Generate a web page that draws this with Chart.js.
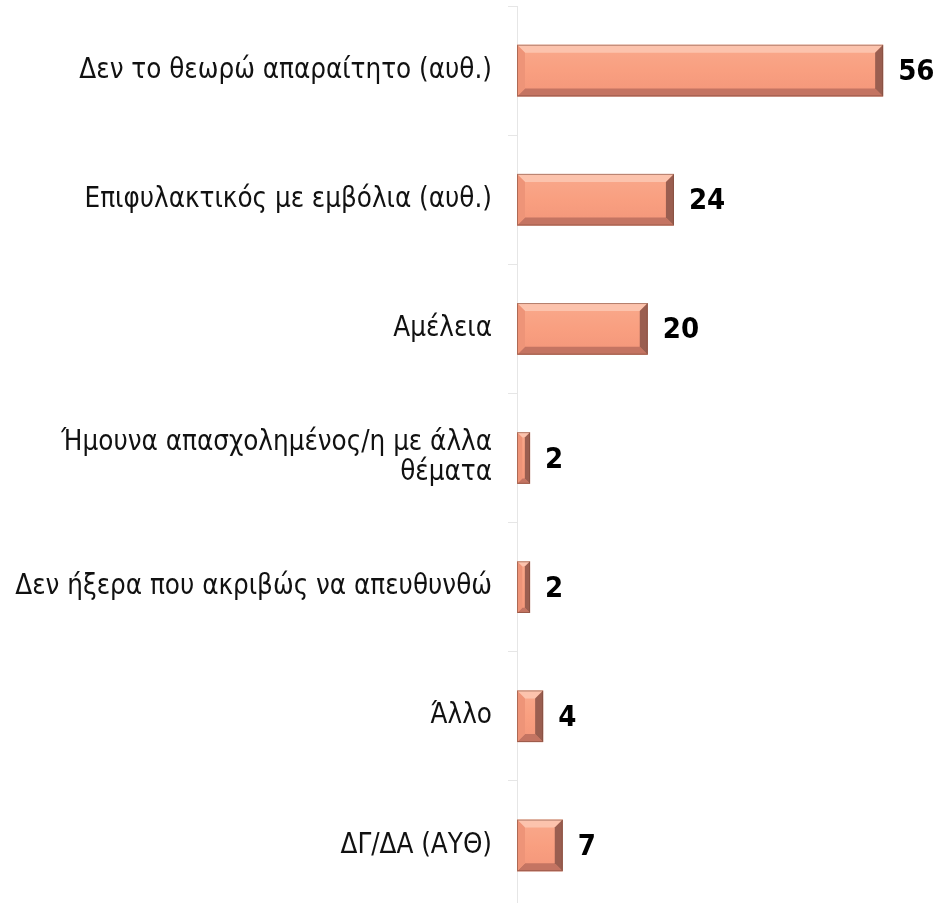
<!DOCTYPE html>
<html>
<head>
<meta charset="utf-8">
<script src="https://cdn.jsdelivr.net/npm/chart.js@4/dist/chart.umd.min.js"></script>
<style>
  html, body { margin: 0; padding: 0; background: #fff; overflow: hidden; }
  canvas { display: block; }
</style>
</head>
<body>
<canvas id="myChart" width="942" height="916" style="width:942px;height:916px"></canvas>
<script>
// κατηγορίες και τιμές
var categories = [
    'Δεν το θεωρώ απαραίτητο (αυθ.)',
    'Επιφυλακτικός με εμβόλια (αυθ.)',
    'Αμέλεια',
    ['Ήμουνα απασχολημένος/η με άλλα', 'θέματα'],
    'Δεν ήξερα που ακριβώς να απευθυνθώ',
    'Άλλο',
    'ΔΓ/ΔΑ (ΑΥΘ)'
];
var values = [56, 24, 20, 2, 2, 4, 7];

// ανάγλυφες μπάρες
var bevelBars = {
    id: 'bevelBars',
    afterDatasetsDraw: function(chart) {
        var ctx = chart.ctx;
        var meta = chart.getDatasetMeta(0);
        meta.data.forEach(function(bar, i) {
            var p = bar.getProps(['x', 'y', 'base', 'height'], true);
            var l = Math.min(p.base, p.x), r = Math.max(p.base, p.x);
            var t = p.y - p.height / 2, b = p.y + p.height / 2;
            var w = r - l, h = b - t;
            var e = Math.min(8, w / 2.5, h / 4);
            ctx.save();
            // πρόσοψη
            var g = ctx.createLinearGradient(0, t, 0, b);
            g.addColorStop(0, '#f9a98c');
            g.addColorStop(0.5, '#f99f80');
            g.addColorStop(1, '#f3967a');
            ctx.fillStyle = g;
            ctx.fillRect(l, t, w, h);
            // πάνω
            ctx.fillStyle = '#fcc3ad';
            ctx.beginPath();
            ctx.moveTo(l, t); ctx.lineTo(r, t); ctx.lineTo(r - e, t + e); ctx.lineTo(l + e, t + e);
            ctx.closePath(); ctx.fill();
            // κάτω
            ctx.fillStyle = '#c47462';
            ctx.beginPath();
            ctx.moveTo(l, b); ctx.lineTo(r, b); ctx.lineTo(r - e, b - e); ctx.lineTo(l + e, b - e);
            ctx.closePath(); ctx.fill();
            // αριστερά
            ctx.fillStyle = '#ee9478';
            ctx.beginPath();
            ctx.moveTo(l, t); ctx.lineTo(l + e, t + e); ctx.lineTo(l + e, b - e); ctx.lineTo(l, b);
            ctx.closePath(); ctx.fill();
            // δεξιά
            ctx.fillStyle = '#9a5e50';
            ctx.beginPath();
            ctx.moveTo(r, t); ctx.lineTo(r - e, t + e); ctx.lineTo(r - e, b - e); ctx.lineTo(r, b);
            ctx.closePath(); ctx.fill();
            // περίγραμμα
            ctx.strokeStyle = 'rgba(120,70,55,0.55)';
            ctx.lineWidth = 1;
            ctx.strokeRect(l + 0.5, t + 0.5, w - 1, h - 1);
            // τιμή
            ctx.fillStyle = '#000';
            ctx.font = 'bold 29px "DejaVu Sans Condensed", "DejaVu Sans"';
            ctx.textAlign = 'left';
            ctx.textBaseline = 'middle';
            ctx.fillText(values[i], r + 15, p.y + 2);
            ctx.restore();
        });
    }
};

var ctx = document.getElementById('myChart').getContext('2d');
var myChart = new Chart(ctx, {
    type: 'bar',
    data: {
        labels: categories,
        datasets: [{
            data: values,
            backgroundColor: 'rgba(0,0,0,0)',
            borderWidth: 0,
            categoryPercentage: 1,
            barPercentage: 0.4
        }]
    },
    options: {
        indexAxis: 'y',
        responsive: false,
        animation: false,
        layout: { padding: { top: 6, bottom: 6, left: 0, right: 0 } },
        plugins: { legend: { display: false }, tooltip: { enabled: false } },
        scales: {
            x: { display: false, min: 0, max: 65 },
            y: {
                afterFit: function(scale) {
                    scale.width = 517;
                    scale.paddingTop = 0;
                    scale.paddingBottom = 0;
                },
                grid: { drawOnChartArea: false, drawTicks: true, tickLength: 9, color: '#e6e6e6' },
                border: { color: '#e6e6e6' },
                ticks: {
                    color: '#111',
                    padding: 16,
                    font: { family: '"DejaVu Sans Condensed", "DejaVu Sans"', size: 27.5, lineHeight: 1.1 }
                }
            }
        }
    },
    plugins: [bevelBars]
});
</script>
</body>
</html>
